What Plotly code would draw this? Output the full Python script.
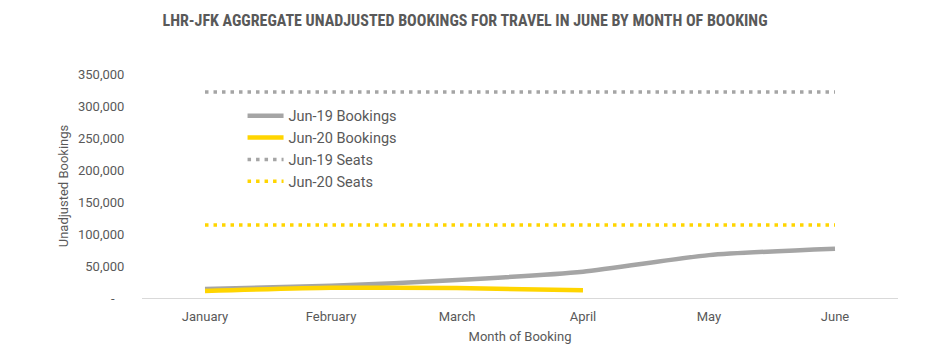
import plotly.graph_objects as go

months = ["January", "February", "March", "April", "May", "June"]
jun19_bookings = [14000, 19000, 28000, 41000, 67000, 77000]
jun20_bookings = [11000, 16000, 15500, 12000, None, None]
jun19_seats = [322000] * 6
jun20_seats = [114000] * 6
ytick_vals = [0, 50000, 100000, 150000, 200000, 250000, 300000, 350000]
ytick_text = ["-\u00a0\u00a0\u00a0", "50,000", "100,000", "150,000", "200,000", "250,000", "300,000", "350,000"]

GRAY = "#A5A5A5"
YELLOW = "#FFD500"
TXT = "#595959"

fig = go.Figure()
fig.add_trace(go.Scatter(x=months, y=jun19_bookings, name="Jun-19 Bookings", mode="lines",
                         line=dict(color=GRAY, width=4.5, shape="spline", smoothing=0.6)))
fig.add_trace(go.Scatter(x=months, y=jun20_bookings, name="Jun-20 Bookings", mode="lines",
                         line=dict(color=YELLOW, width=4.5, shape="spline", smoothing=0.6)))
fig.add_trace(go.Scatter(x=months, y=jun19_seats, name="Jun-19 Seats", mode="lines",
                         line=dict(color=GRAY, width=3.5, dash="3.5px,5px")))
fig.add_trace(go.Scatter(x=months, y=jun20_seats, name="Jun-20 Seats", mode="lines",
                         line=dict(color=YELLOW, width=3.5, dash="3.5px,5px")))

fig.update_layout(
    width=931, height=364,
    margin=dict(l=134, r=41, t=66, b=74),
    paper_bgcolor="white", plot_bgcolor="white",
    font=dict(family="Roboto, Arial, sans-serif", color=TXT, size=13),
    title=dict(text="<b>LHR-JFK AGGREGATE UNADJUSTED BOOKINGS FOR TRAVEL IN JUNE BY MONTH OF BOOKING</b>",
               x=(465 - 8) / 931, xanchor="center", y=1 - 12 / 364, yanchor="middle",
               font=dict(family="Roboto Condensed, Liberation Sans Narrow, Arial, sans-serif", size=16, color=TXT)),
    legend=dict(x=0.133, y=0.885, xanchor="left", yanchor="top", bgcolor="rgba(0,0,0,0)",
                font=dict(size=14.5, color=TXT), tracegroupgap=0, itemwidth=36),
    showlegend=True,
)
fig.update_xaxes(range=[-0.5, 5.5], showgrid=False, showline=True, linecolor="#D9D9D9", linewidth=1,
                 ticks="outside", ticklen=6, tickcolor="rgba(0,0,0,0)",
                 title=dict(text="Month of Booking", standoff=9, font=dict(size=13, color=TXT)),
                 tickfont=dict(size=13, color=TXT))
fig.update_yaxes(range=[0, 350000], tickvals=ytick_vals, ticktext=ytick_text, showgrid=False,
                 zeroline=False, showline=False, ticks="outside", ticklen=14, tickcolor="rgba(0,0,0,0)",
                 title=dict(text="Unadjusted Bookings", standoff=6, font=dict(size=13, color=TXT)),
                 tickfont=dict(size=13, color=TXT))

fig.write_html("out.html")
